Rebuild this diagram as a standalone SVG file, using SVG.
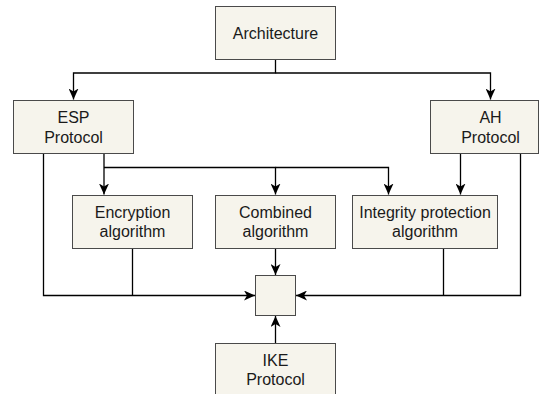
<svg xmlns="http://www.w3.org/2000/svg" width="539" height="394" viewBox="0 0 539 394">
  <defs>
    <style>
      .box { fill: #f6f4ec; stroke: #4a4a4a; stroke-width: 1; }
      .lbl { font-family: "Liberation Sans", Arial, sans-serif; font-size: 16px; fill: #1a1a1a; text-anchor: middle; }
      .wire { fill: none; stroke: #000; stroke-width: 1.3; }
    </style>
    <marker id="arrow" viewBox="0 0 11 10" refX="11" refY="5" markerWidth="11" markerHeight="10" markerUnits="userSpaceOnUse" orient="auto">
      <path d="M0,0 L11,5 L0,10 L3,5 Z" fill="#000"/>
    </marker>
  </defs>

  <rect width="539" height="394" fill="#fff"/>

  <g id="connectors">
    <path class="wire" d="M275.5,60 V73 H73.5 V99.5" marker-end="url(#arrow)"/>
    <path class="wire" d="M275.5,73 H490.5 V99.5" marker-end="url(#arrow)"/>
    <path class="wire" d="M104,154 V194.5" marker-end="url(#arrow)"/>
    <path class="wire" d="M104,167.5 H275.5 V194.5" marker-end="url(#arrow)"/>
    <path class="wire" d="M275.5,167.5 H388.5 V194.5" marker-end="url(#arrow)"/>
    <path class="wire" d="M460.5,154 V194.5" marker-end="url(#arrow)"/>
    <path class="wire" d="M43.5,154 V295.5 H255" marker-end="url(#arrow)"/>
    <path class="wire" d="M132.5,248 V295.5"/>
    <path class="wire" d="M275.5,248 V275" marker-end="url(#arrow)"/>
    <path class="wire" d="M520.5,154 V295.5 H296" marker-end="url(#arrow)"/>
    <path class="wire" d="M443.5,248 V295.5"/>
    <path class="wire" d="M275.5,343 V316" marker-end="url(#arrow)"/>
  </g>

  <g id="architecture">
    <rect class="box" x="215.5" y="6.5" width="120" height="53"/>
    <text class="lbl" x="275.5" y="38.5">Architecture</text>
  </g>

  <g id="esp">
    <rect class="box" x="13.5" y="100.5" width="120" height="53"/>
    <text class="lbl" x="73.5" y="123.3">ESP</text>
    <text class="lbl" x="73.5" y="142.5">Protocol</text>
  </g>

  <g id="ah">
    <rect class="box" x="430.5" y="100.5" width="108" height="53"/>
    <text class="lbl" x="490.5" y="123.3">AH</text>
    <text class="lbl" x="490.5" y="142.5">Protocol</text>
  </g>

  <g id="encryption">
    <rect class="box" x="72.5" y="195.5" width="120" height="53"/>
    <text class="lbl" x="132.5" y="217.6">Encryption</text>
    <text class="lbl" x="132.5" y="236.8">algorithm</text>
  </g>

  <g id="combined">
    <rect class="box" x="215.5" y="195.5" width="120" height="53"/>
    <text class="lbl" x="275.5" y="217.6">Combined</text>
    <text class="lbl" x="275.5" y="236.8">algorithm</text>
  </g>

  <g id="integrity">
    <rect class="box" x="352.5" y="195.5" width="145" height="53"/>
    <text class="lbl" x="425" y="217.6">Integrity protection</text>
    <text class="lbl" x="425" y="236.8">algorithm</text>
  </g>

  <g id="combiner">
    <rect class="box" x="255.5" y="275.5" width="40" height="40"/>
  </g>

  <g id="ike">
    <rect class="box" x="215.5" y="343.5" width="120" height="53"/>
    <text class="lbl" x="275.5" y="365.6">IKE</text>
    <text class="lbl" x="275.5" y="384.8">Protocol</text>
  </g>
</svg>
